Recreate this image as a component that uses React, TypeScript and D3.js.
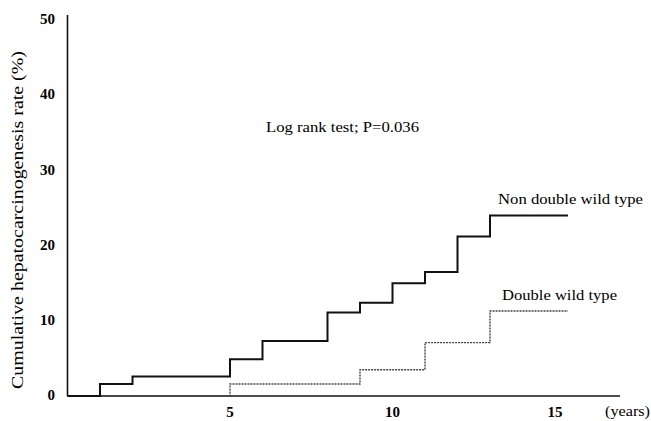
import React, { useEffect, useRef } from 'react';
import * as d3 from 'd3';

// step times (years) and cumulative rates (%)
const nonDoubleYears = [0, 1, 2, 5, 6, 8, 9, 10, 11, 12, 13, 15.4];
const nonDoubleRates = [0, 1.6, 2.6, 4.9, 7.3, 11.1, 12.4, 15.0, 16.5, 21.2, 24.0, 24.0];
const doubleYears = [0, 5, 9, 11, 13, 15.4];
const doubleRates = [0, 1.6, 3.5, 7.1, 11.3, 11.3];
const yTicks = [0, 10, 20, 30, 40, 50];
const xTicks = [5, 10, 15];

const W = 651;
const H = 421;

const App = () => {
    const ref = useRef<SVGSVGElement | null>(null);

    useEffect(() => {
        if (!ref.current) return;
        const svg = d3.select(ref.current);
        svg.selectAll('*').remove();

        const x = d3.scaleLinear().domain([0, 17]).range([67.5, 620]);
        const y = d3.scaleLinear().domain([0, 50]).range([396, 20]);
        const serif = '"Liberation Serif", "DejaVu Serif", serif';

        // axes
        svg.append('line')
            .attr('x1', x(0)).attr('x2', x(0))
            .attr('y1', y(50) - 5).attr('y2', y(0))
            .attr('stroke', '#111').attr('stroke-width', 1.6);
        svg.append('line')
            .attr('x1', x(0)).attr('x2', x(17))
            .attr('y1', y(0)).attr('y2', y(0))
            .attr('stroke', '#111').attr('stroke-width', 1.6);

        svg.append('g').selectAll('text').data(yTicks).join('text')
            .attr('x', 55).attr('y', d => y(d) - 1)
            .attr('dy', '0.35em')
            .attr('text-anchor', 'end')
            .attr('font-family', serif).attr('font-weight', 'bold').attr('font-size', 15)
            .text(d => d);

        svg.append('g').selectAll('text').data(xTicks).join('text')
            .attr('x', d => x(d)).attr('y', 417)
            .attr('text-anchor', 'middle')
            .attr('font-family', serif).attr('font-weight', 'bold').attr('font-size', 15)
            .text(d => d);

        svg.append('text')
            .attr('x', 605).attr('y', 416)
            .attr('font-family', serif).attr('font-size', 14)
            .attr('textLength', 45).attr('lengthAdjust', 'spacingAndGlyphs')
            .text('(years)');

        svg.append('text')
            .attr('transform', `translate(23,${(50 + 390) / 2}) rotate(-90)`)
            .attr('text-anchor', 'middle')
            .attr('font-family', serif).attr('font-size', 17)
            .attr('textLength', 338).attr('lengthAdjust', 'spacingAndGlyphs')
            .text('Cumulative hepatocarcinogenesis rate (%)');

        const stepPath = (years: number[], rates: number[]) =>
            d3.line<number>()
                .x(d => x(years[d]))
                .y(d => y(rates[d]))
                .curve(d3.curveStepAfter)(d3.range(years.length));

        svg.append('path')
            .attr('d', stepPath(doubleYears, doubleRates))
            .attr('fill', 'none')
            .attr('stroke', '#444').attr('stroke-width', 1.4)
            .attr('stroke-dasharray', '2,1');

        svg.append('path')
            .attr('d', stepPath(nonDoubleYears, nonDoubleRates))
            .attr('fill', 'none')
            .attr('stroke', '#111').attr('stroke-width', 2);

        const label = (tx: number, ty: number, len: number, s: string) =>
            svg.append('text')
                .attr('x', tx).attr('y', ty)
                .attr('font-family', serif).attr('font-size', 15)
                .attr('textLength', len).attr('lengthAdjust', 'spacingAndGlyphs')
                .text(s);

        label(266, 132, 153, 'Log rank test; P=0.036');
        label(498, 204, 145, 'Non double wild type');
        label(502, 300, 115, 'Double wild type');
    }, []);

    return (
        <svg ref={ref} width={W} height={H}
            style={{ position: 'absolute', left: 0, top: 0, background: '#fff' }} />
    );
};

export default App;
